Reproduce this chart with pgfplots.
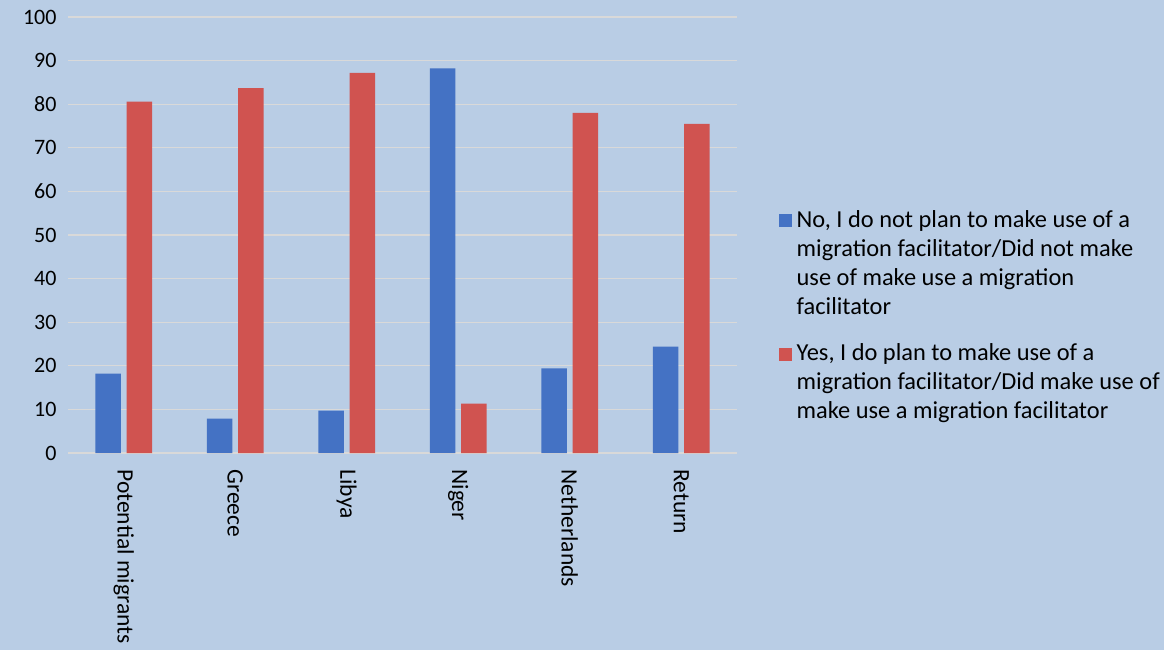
\documentclass[border=0pt]{standalone}
\usepackage{pgfplots}
\pgfplotsset{compat=1.18}
\usepackage{fontspec}
\setmainfont{Carlito}
\definecolor{bg}{HTML}{B9CDE5}
\definecolor{cblue}{HTML}{4472C4}
\definecolor{cred}{HTML}{D05350}
\definecolor{cgrid}{HTML}{D9D9D9}
\newcommand{\legtext}[1]{\parbox[b]{370pt}{\fontsize{24.4}{29}\selectfont\raggedright #1}}
\begin{document}
\fontsize{22}{27}\selectfont
\begin{tikzpicture}
\fill[bg, use as bounding box] (-68pt,-197pt) rectangle (1096pt,453pt);
\begin{axis}[
  at={(0,0)}, anchor=south west,
  scale only axis, width=669pt, height=436pt,
  xmin=-0.5, xmax=5.5, ymin=0, ymax=100,
  ytick={0,10,...,100},
  xtick={0,1,2,3,4,5},
  xticklabels={Potential migrants,Greece,Libya,Niger,Netherlands,Return},
  x tick label style={rotate=-90, anchor=west, font=\fontsize{23.5}{27}\selectfont, xshift=9pt},
  y tick label style={font=\fontsize{22}{27}\selectfont, xshift=-4pt},
  /pgf/number format/assume math mode=true,
  axis line style={draw=none},
  major tick length=0pt,
  ymajorgrids, grid style={cgrid, line width=1.3pt},
  ybar, bar width=0.23,
  legend style={at={(1.062,0.568)}, anchor=north west, draw=none, fill=none,
    cells={anchor=base west}, row sep=16pt, inner sep=0pt,
    nodes={inner sep=5pt}},
]
\addplot[fill=cblue, draw=none, bar shift=-0.14,
  legend image code/.code={\fill[cblue] (0pt,87pt) rectangle (13pt,100pt);}]
  coordinates {(0,18.2) (1,7.9) (2,9.7) (3,88.2) (4,19.4) (5,24.4)};
\addplot[fill=cred, draw=none, bar shift=0.14,
  legend image code/.code={\fill[cred] (0pt,58pt) rectangle (13pt,71pt);}]
  coordinates {(0,80.6) (1,83.7) (2,87.2) (3,11.3) (4,78.0) (5,75.5)};
\legend{{\legtext{No, I do not plan to make use of a\\migration facilitator/Did not make\\use of make use a migration\\facilitator}},{\legtext{Yes, I do plan to make use of a\\migration facilitator/Did make use of\\make use a migration facilitator}}}
\end{axis}
\end{tikzpicture}
\end{document}
